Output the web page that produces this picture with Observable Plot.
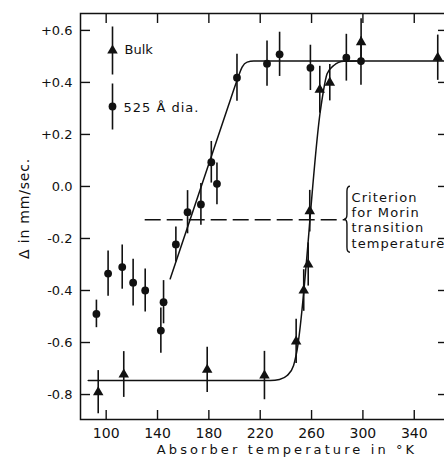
<!DOCTYPE html>
<html>
<head>
<meta charset="utf-8">
<script src="https://cdn.jsdelivr.net/npm/d3@7"></script>
<script src="https://cdn.jsdelivr.net/npm/@observablehq/plot@0.6"></script>
<style>
  html, body { margin: 0; padding: 0; background: #fff; overflow: hidden; }
  #chart { width: 444px; height: 457px; overflow: hidden; }
  #chart svg { max-width: none !important; display: block; }
</style>
</head>
<body>
<div id="chart"></div>
<script>
// ---- data ----
// 525 Å diameter particles (circles)
const smallT = [92.4, 101.5, 112.5, 121, 130.4, 142.6, 144.7, 154.3, 163.4, 173.8, 181.9, 186.3, 201.9, 225.3, 235.1, 259.1, 287.1, 298.5];
const smallV = [-0.49, -0.335, -0.31, -0.37, -0.40, -0.554, -0.445, -0.223, -0.099, -0.069, 0.093, 0.01, 0.418, 0.472, 0.508, 0.456, 0.495, 0.482];
const smallE = [0.053, 0.087, 0.085, 0.09, 0.083, 0.087, 0.083, 0.067, 0.083, 0.08, 0.08, 0.08, 0.09, 0.087, 0.085, 0.087, 0.09, 0.093];
// Bulk (triangles)
const bulkT = [93.8, 113.7, 178.7, 223.3, 248.0, 253.9, 257.4, 258.6, 266.4, 274.2, 298.6, 358.3];
const bulkV = [-0.791, -0.723, -0.705, -0.727, -0.596, -0.40, -0.30, -0.095, 0.372, 0.399, 0.555, 0.495];
const bulkE = [0.083, 0.088, 0.087, 0.093, 0.085, 0.08, 0.083, 0.08, 0.09, 0.07, 0.09, 0.087];
// hand-drawn fit curves
const fitSmallT = [149.9, 195, 201.9, 205.9, 209.8, 215, 365];
const fitSmallV = [-0.355, 0.307, 0.407, 0.459, 0.478, 0.482, 0.482];
const fitBulkT = [86, 228, 235, 241, 246, 248.2, 266.9, 269, 272.1, 277.3, 285.1, 295];
const fitBulkV = [-0.746, -0.746, -0.742, -0.727, -0.688, -0.643, 0.292, 0.36, 0.433, 0.465, 0.481, 0.482];
// criterion line
const criterionY = -0.128;
const criterionX1 = 130.4;
const criterionX2 = 286.4;
const criterionText = "Criterion\nfor Morin\ntransition\ntemperature";
// axes
const xTicks = [100, 140, 180, 220, 260, 300, 340];
const yTicks = [-0.8, -0.6, -0.4, -0.2, 0.0, 0.2, 0.4, 0.6];
const yTickLabels = ["-0.8", "-0.6", "-0.4", "-0.2", "0.0", "+0.2", "+0.4", "+0.6"];
const xLabel = "Absorber temperature in °K";
const yLabel = "Δ in mm/sec.";
const legendLabels = ["Bulk", "525 Å dia."];

// ---- build tables ----
const small = smallT.map((t, i) => ({t, v: smallV[i], e: smallE[i]}));
const bulk = bulkT.map((t, i) => ({t, v: bulkV[i], e: bulkE[i]}));
const fitSmall = fitSmallT.map((t, i) => ({t, v: fitSmallV[i]}));
const fitBulk = fitBulkT.map((t, i) => ({t, v: fitBulkV[i]}));
const crit = [{y: criterionY, x1: criterionX1, x2: criterionX2}];

const ink = "#111";
const vbar = (half) => ({draw(ctx) { ctx.moveTo(0, -half); ctx.lineTo(0, half); }});

const chart = Plot.plot({
  width: 450,
  height: 457,
  marginLeft: 80,
  marginRight: 3,
  marginTop: 13,
  marginBottom: 38,
  style: {fontFamily: "DejaVu Sans", color: ink, background: "#fff"},
  x: {domain: [80, 365.9], ticks: xTicks, tickSize: 0, tickPadding: 9, label: null, tickFormat: d => String(d)},
  y: {domain: [-0.896, 0.665], ticks: yTicks, tickSize: 0, tickPadding: 8, label: null,
      tickFormat: d => yTickLabels[yTicks.findIndex(v => Math.abs(v - d) < 1e-9)]},
  marks: [
    Plot.frame({stroke: ink, strokeWidth: 1.5}),
    // inward ticks on all four sides
    Plot.tickX(xTicks, {x: d => d, insetTop: 397, stroke: ink, strokeWidth: 1.4}),
    Plot.tickX(xTicks, {x: d => d, insetBottom: 396, stroke: ink, strokeWidth: 1.4}),
    Plot.tickY(yTicks, {y: d => d, insetRight: 357, stroke: ink, strokeWidth: 1.4}),
    Plot.tickY(yTicks, {y: d => d, insetLeft: 358, stroke: ink, strokeWidth: 1.4}),
    // criterion dashed line
    Plot.ruleY(crit, {y: "y", x1: "x1", x2: "x2", stroke: ink, strokeWidth: 1.4, strokeDasharray: "16,6"}),
    Plot.text([criterionText], {x: criterionX2, y: criterionY, dx: 6, textAnchor: "start", lineAnchor: "middle", lineHeight: 1.18, fontSize: 13, fill: ink}),
    // fit curves
    Plot.line(fitSmall, {x: "t", y: "v", curve: "monotone-x", stroke: ink, strokeWidth: 1.5}),
    Plot.line(fitBulk, {x: "t", y: "v", curve: "monotone-x", stroke: ink, strokeWidth: 1.5}),
    // error bars
    Plot.ruleX(small, {x: "t", y1: d => d.v - d.e, y2: d => d.v + d.e, stroke: ink, strokeWidth: 1.6}),
    Plot.ruleX(bulk, {x: "t", y1: d => d.v - d.e, y2: d => d.v + d.e, stroke: ink, strokeWidth: 1.6}),
    // points
    Plot.dot(small, {x: "t", y: "v", r: 3.9, fill: ink, stroke: "none"}),
    Plot.dot(bulk, {x: "t", y: "v", symbol: "triangle", r: 3.9, fill: ink, stroke: "none"}),
    // legend
    Plot.dot([0], {frameAnchor: "top-left", dx: 32, dy: 37, symbol: vbar(24), stroke: ink, strokeWidth: 1.6, fill: "none"}),
    Plot.dot([0], {frameAnchor: "top-left", dx: 32, dy: 37, symbol: "triangle", r: 3.9, fill: ink, stroke: "none"}),
    Plot.dot([0], {frameAnchor: "top-left", dx: 32, dy: 93, symbol: vbar(23), stroke: ink, strokeWidth: 1.6, fill: "none"}),
    Plot.dot([0], {frameAnchor: "top-left", dx: 32, dy: 93, r: 3.9, fill: ink, stroke: "none"}),
    Plot.text([legendLabels[0]], {frameAnchor: "top-left", dx: 44, dy: 36, textAnchor: "start", lineAnchor: "middle", fontSize: 13, fill: ink}),
    Plot.text([legendLabels[1]], {frameAnchor: "top-left", dx: 43, dy: 94, textAnchor: "start", lineAnchor: "middle", fontSize: 13, fill: ink}),
    // axis titles
    Plot.text([xLabel], {frameAnchor: "bottom", dx: 23, dy: 30, textAnchor: "middle", lineAnchor: "middle", fontSize: 13, fill: ink}),
    Plot.text([yLabel], {frameAnchor: "left", dx: -56, dy: -8, rotate: -90, textAnchor: "middle", lineAnchor: "middle", fontSize: 14, fill: ink})
  ]
});
chart.style.maxWidth = "none";

// font sizes of tick labels
d3.select(chart).selectAll('g[aria-label="x-axis tick label"] text').attr("font-size", 14);
d3.select(chart).selectAll('g[aria-label="y-axis tick label"] text').attr("font-size", 13);

// letter spacing of the typewritten labels
d3.select(chart).selectAll("text").each(function() {
  const s = this.textContent;
  if (s === xLabel) this.setAttribute("letter-spacing", "3.1");
  else if (s === yLabel) this.setAttribute("letter-spacing", "0.8");
  else if (s.startsWith("Criterion")) this.setAttribute("letter-spacing", "1.1");
  else if (s === legendLabels[1]) this.setAttribute("letter-spacing", "1");
});

// curly brace at the end of the criterion line, placed through the plot's scales
const sx = chart.scale("x"), sy = chart.scale("y");
const bx = sx.apply(criterionX2) - 1, by = sy.apply(criterionY);
const h = 66, w = 6;
const bracePath = `M${bx + w},${by - h / 2} Q${bx + w / 2},${by - h / 2} ${bx + w / 2},${by - h / 2 + 5} L${bx + w / 2},${by - 5} Q${bx + w / 2},${by} ${bx},${by} Q${bx + w / 2},${by} ${bx + w / 2},${by + 5} L${bx + w / 2},${by + h / 2 - 5} Q${bx + w / 2},${by + h / 2} ${bx + w},${by + h / 2}`;
d3.select(chart).append("path").attr("d", bracePath).attr("fill", "none").attr("stroke", ink).attr("stroke-width", 1.4);

document.getElementById("chart").appendChild(chart);
</script>
</body>
</html>
